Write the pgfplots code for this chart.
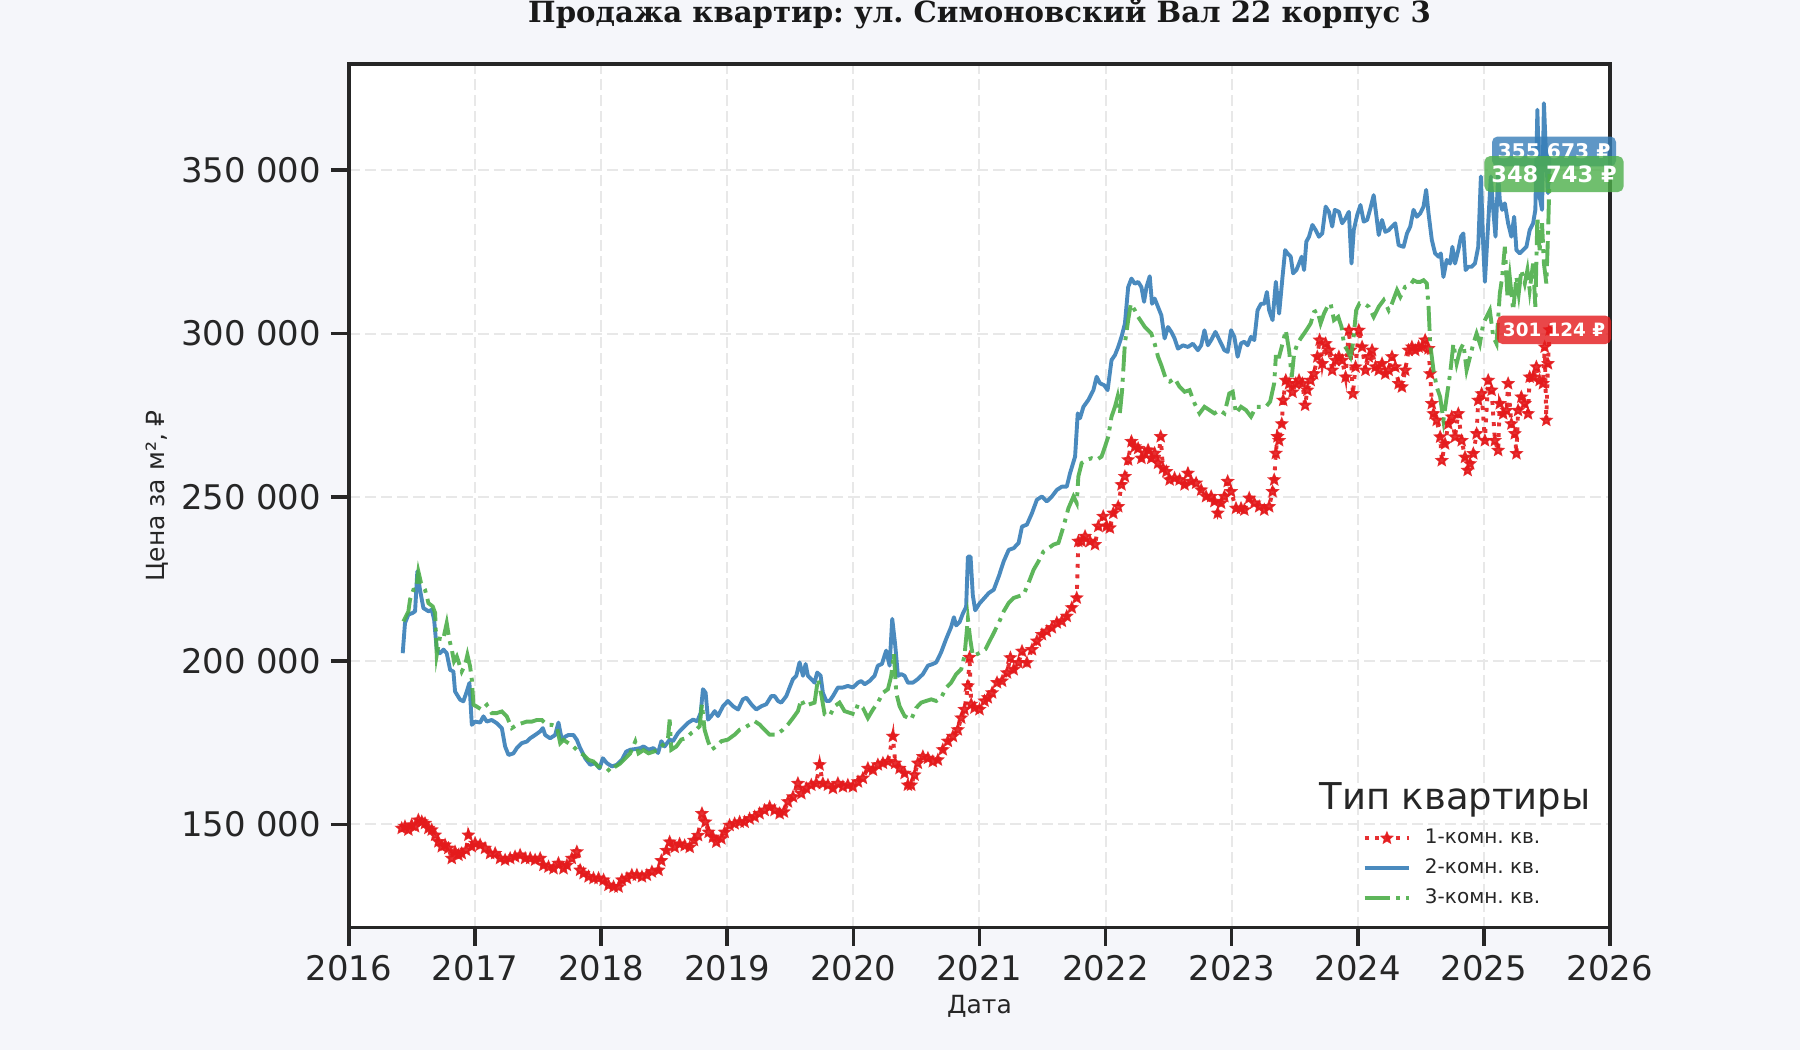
\documentclass[border=0pt]{standalone}
\usepackage{fontspec}
\setmainfont{DejaVu Sans}
\newfontfamily\titlefont{DejaVu Serif}
\usepackage{pgfplots}
\pgfplotsset{compat=1.18}
\usetikzlibrary{plotmarks}
\frenchspacing

\definecolor{figbg}{RGB}{245,246,250}
\definecolor{axiscol}{RGB}{38,38,38}
\definecolor{gridcol}{RGB}{232,232,232}
\definecolor{redC}{RGB}{228,26,28}
\definecolor{blueC}{RGB}{55,126,184}
\definecolor{greenC}{RGB}{77,175,74}

% filled five-pointed star
\pgfdeclareplotmark{fstar}{%
  \pgfpathmoveto{\pgfpointpolar{90}{\pgfplotmarksize}}%
  \pgfpathlineto{\pgfpointpolar{126}{0.45\pgfplotmarksize}}%
  \pgfpathlineto{\pgfpointpolar{162}{\pgfplotmarksize}}%
  \pgfpathlineto{\pgfpointpolar{198}{0.45\pgfplotmarksize}}%
  \pgfpathlineto{\pgfpointpolar{234}{\pgfplotmarksize}}%
  \pgfpathlineto{\pgfpointpolar{270}{0.45\pgfplotmarksize}}%
  \pgfpathlineto{\pgfpointpolar{306}{\pgfplotmarksize}}%
  \pgfpathlineto{\pgfpointpolar{342}{0.45\pgfplotmarksize}}%
  \pgfpathlineto{\pgfpointpolar{18}{\pgfplotmarksize}}%
  \pgfpathlineto{\pgfpointpolar{54}{0.45\pgfplotmarksize}}%
  \pgfpathclose
  \pgfusepathqfillstroke
}

\pgfplotsset{
  linelegend/.style={legend image code/.code={\draw[mark repeat=2,mark phase=2,##1] plot coordinates {(0pt,0pt) (8pt,0pt) (16pt,0pt)};}},
}

\begin{document}
\begin{tikzpicture}
\fill[figbg] (-125.64pt,-44.06pt) rectangle (522.36pt,333.94pt);
\begin{axis}[
    at={(0,0)}, anchor=south west,
    scale only axis,
    width=453.96pt, height=310.8pt,
    xmin=2016, xmax=2026,
    ymin=118430, ymax=382300,
    axis background/.style={fill=white},
    axis line style={line width=1.3pt, color=axiscol},
    xtick={2016,2017,...,2026},
    xticklabels={2016,2017,2018,2019,2020,2021,2022,2023,2024,2025,2026},
    ytick={150000,200000,250000,300000,350000},
    yticklabels={150 000,200 000,250 000,300 000,350 000},
    scaled y ticks=false, scaled x ticks=false,
    xtick pos=bottom, ytick pos=left,
    tick align=outside,
    major tick length=6.5pt,
    tick style={line width=1.3pt, color=axiscol},
    ticklabel style={font=\fontsize{12.2}{14}\selectfont, text=axiscol},
    grid=major,
    major grid style={dash pattern=on 4pt off 1.8pt, line width=0.7pt, color=gridcol},
    xlabel={Дата},
    xlabel style={at={(axis description cs:0.5,-0.0915)}, anchor=center,
        font=\fontsize{9}{11}\selectfont, text=axiscol},
    ylabel={Цена за м², ₽},
    ylabel style={at={(axis description cs:-0.1523,0.5)}, anchor=center,
        font=\fontsize{9}{11}\selectfont, text=axiscol},
    legend style={at={(rel axis cs:0.8035,0.1152)}, anchor=north west,
        draw=none, fill=none, inner sep=0pt, row sep=4pt, column sep=5pt,
        font=\fontsize{7.2}{8.5}\selectfont, text=axiscol,
        nodes={inner sep=0pt, text height=5.3pt, text depth=1.5pt}},
    legend cell align=left,
    linelegend,
    clip mode=individual,
]
% 1-room
\addplot[color=redC, draw opacity=0.9, fill opacity=0.9, line width=1.4pt, dash pattern=on 1.4pt off 2.4pt,
    mark=fstar, mark size=1.9pt, mark options={solid, line width=0.6pt, fill=redC}]
coordinates {
(2016.418,148800)(2016.444,149300)(2016.471,148300)(2016.497,149800)(2016.524,149300)
(2016.550,151300)(2016.577,150800)(2016.603,150300)(2016.630,148800)(2016.656,148300)
(2016.683,146700)(2016.709,144700)(2016.736,143200)(2016.762,143700)(2016.788,142700)
(2016.815,139600)(2016.841,141600)(2016.868,140600)(2016.894,141100)(2016.929,142100)
(2016.947,146700)(2016.974,143200)(2017.000,144200)(2017.040,143700)(2017.079,142700)
(2017.119,141100)(2017.159,141100)(2017.198,139600)(2017.238,139100)(2017.278,139600)
(2017.317,140100)(2017.357,140600)(2017.397,139600)(2017.437,139600)(2017.476,139100)
(2017.516,139600)(2017.542,137500)(2017.582,137000)(2017.622,136500)(2017.661,138100)
(2017.701,136500)(2017.728,137500)(2017.767,139600)(2017.807,141600)(2017.833,136000)
(2017.860,135000)(2017.900,134000)(2017.939,133500)(2017.979,133500)(2018.019,133000)
(2018.058,131400)(2018.098,130900)(2018.138,130900)(2018.164,133000)(2018.204,133500)
(2018.243,134500)(2018.283,134500)(2018.323,134000)(2018.362,134500)(2018.402,135500)
(2018.455,136000)(2018.477,138900)(2018.517,142000)(2018.543,144600)(2018.583,143000)
(2018.622,144000)(2018.662,143500)(2018.702,143000)(2018.736,145100)(2018.768,146600)
(2018.799,153300)(2018.826,150700)(2018.852,147600)(2018.886,146100)(2018.913,144600)
(2018.953,145600)(2018.979,147600)(2019.018,149700)(2019.058,150200)(2019.098,150700)
(2019.137,150700)(2019.177,151700)(2019.217,152300)(2019.256,153300)(2019.296,154300)
(2019.336,155300)(2019.375,154300)(2019.415,153300)(2019.449,153800)(2019.481,156900)
(2019.521,158400)(2019.560,162500)(2019.587,159400)(2019.626,161000)(2019.666,162000)
(2019.705,162500)(2019.732,168200)(2019.758,162500)(2019.798,162000)(2019.838,161000)
(2019.877,162500)(2019.917,161500)(2019.956,162000)(2019.996,161500)(2020.036,163000)
(2020.075,164100)(2020.115,167100)(2020.155,166600)(2020.194,168200)(2020.234,168700)
(2020.274,169200)(2020.313,176900)(2020.332,168700)(2020.366,167100)(2020.406,165600)
(2020.432,162000)(2020.458,162000)(2020.485,165100)(2020.511,168700)(2020.551,170700)
(2020.591,170200)(2020.630,169200)(2020.670,169700)(2020.709,172800)(2020.749,175400)
(2020.789,176900)(2020.828,178900)(2020.855,182500)(2020.881,185100)(2020.908,192300)
(2020.921,201000)(2020.934,186700)(2020.960,185600)(2021.000,185100)(2021.040,187700)
(2021.066,188700)(2021.100,190200)(2021.139,193300)(2021.179,193800)(2021.218,196300)
(2021.245,200900)(2021.271,197300)(2021.310,199400)(2021.337,202900)(2021.376,199400)
(2021.416,203400)(2021.455,206000)(2021.495,208000)(2021.534,209000)(2021.574,210100)
(2021.613,211600)(2021.653,212100)(2021.692,213600)(2021.732,216200)(2021.771,219200)
(2021.784,236500)(2021.810,236500)(2021.837,238000)(2021.876,236500)(2021.916,235500)
(2021.942,241100)(2021.981,244100)(2022.008,241100)(2022.034,240600)(2022.061,245100)
(2022.100,247100)(2022.126,253800)(2022.153,256300)(2022.179,261400)(2022.205,267000)
(2022.232,265400)(2022.258,264900)(2022.284,261900)(2022.311,263400)(2022.337,264400)
(2022.363,261900)(2022.389,263400)(2022.416,260400)(2022.437,268500)(2022.455,258800)
(2022.482,257800)(2022.508,255300)(2022.547,255800)(2022.587,255300)(2022.626,253800)
(2022.653,257300)(2022.679,254800)(2022.718,254300)(2022.758,252200)(2022.797,250200)
(2022.837,250200)(2022.863,248700)(2022.889,245100)(2022.916,248200)(2022.942,250200)
(2022.968,254800)(2022.995,251700)(2023.034,246600)(2023.074,246600)(2023.100,246100)
(2023.139,249700)(2023.179,248200)(2023.218,247100)(2023.258,246100)(2023.297,247100)
(2023.324,251700)(2023.337,255300)(2023.350,263400)(2023.363,268500)(2023.376,267300)
(2023.397,272400)(2023.408,279600)(2023.429,285700)(2023.455,284700)(2023.482,282100)
(2023.508,284700)(2023.534,285700)(2023.561,284700)(2023.582,278100)(2023.600,282700)
(2023.626,285700)(2023.653,287700)(2023.679,292900)(2023.697,298000)(2023.718,290800)
(2023.745,296900)(2023.771,294900)(2023.797,288800)(2023.824,291800)(2023.850,292900)
(2023.876,291800)(2023.903,286700)(2023.929,301000)(2023.942,294900)(2023.961,281600)
(2023.982,289800)(2024.008,301000)(2024.034,295900)(2024.061,288800)(2024.087,292900)
(2024.113,294900)(2024.140,289800)(2024.166,288800)(2024.192,290800)(2024.218,287700)
(2024.245,288800)(2024.271,292900)(2024.297,289800)(2024.324,284700)(2024.350,283700)
(2024.376,288800)(2024.403,294900)(2024.429,295900)(2024.455,294900)(2024.482,295900)
(2024.508,295900)(2024.534,298000)(2024.561,295400)(2024.574,287700)(2024.587,278600)
(2024.600,275500)(2024.626,273500)(2024.653,268400)(2024.666,261200)(2024.692,266300)
(2024.718,272400)(2024.745,274500)(2024.771,268400)(2024.797,275500)(2024.824,267300)
(2024.850,262200)(2024.871,258200)(2024.890,260200)(2024.916,263300)(2024.942,269400)
(2024.955,279600)(2024.982,281600)(2025.008,267300)(2025.034,285700)(2025.061,282700)
(2025.087,267300)(2025.113,264300)(2025.126,278600)(2025.153,275500)(2025.179,276500)
(2025.192,284700)(2025.218,272400)(2025.245,269400)(2025.258,263300)(2025.271,276500)
(2025.297,280600)(2025.324,278600)(2025.350,275500)(2025.363,286700)(2025.390,286700)
(2025.416,289800)(2025.442,285700)(2025.468,284700)(2025.482,295900)(2025.495,273500)
(2025.508,290800)(2025.521,301124)
};
\addlegendentry{1-комн. кв.}
% 2-room
\addplot[color=blueC, draw opacity=0.9, line width=1.4pt, line join=round]
coordinates {
(2016.426,202300)(2016.444,211500)(2016.471,214100)(2016.505,214600)(2016.524,215100)
(2016.542,227300)(2016.563,221700)(2016.590,216100)(2016.630,215100)(2016.656,215600)
(2016.675,212600)(2016.696,203400)(2016.722,202300)(2016.749,203400)(2016.775,202300)
(2016.802,197200)(2016.828,196700)(2016.841,190600)(2016.881,188100)(2016.907,187600)
(2016.934,190600)(2016.955,193200)(2016.974,180400)(2017.000,181400)(2017.040,181100)
(2017.066,183000)(2017.093,181400)(2017.132,181900)(2017.172,180900)(2017.212,179400)
(2017.238,173800)(2017.265,171200)(2017.304,171700)(2017.331,173300)(2017.370,174800)
(2017.410,175300)(2017.437,176300)(2017.476,177300)(2017.516,178400)(2017.537,179400)
(2017.556,177300)(2017.595,176300)(2017.635,177300)(2017.661,181100)(2017.688,175800)
(2017.714,176800)(2017.741,177300)(2017.780,177300)(2017.807,175800)(2017.833,173300)
(2017.873,170200)(2017.913,168200)(2017.952,168700)(2017.987,167100)(2018.013,170200)
(2018.045,168700)(2018.085,167700)(2018.124,168200)(2018.164,169700)(2018.198,172200)
(2018.230,172800)(2018.270,173000)(2018.310,173300)(2018.336,173800)(2018.376,172800)
(2018.415,173300)(2018.451,171800)(2018.477,175400)(2018.503,173800)(2018.543,175900)
(2018.569,175400)(2018.609,177900)(2018.649,179500)(2018.688,181000)(2018.728,182000)
(2018.762,181500)(2018.789,184100)(2018.807,191300)(2018.828,190200)(2018.847,182000)
(2018.873,183100)(2018.900,184600)(2018.926,183100)(2018.966,186100)(2019.005,187700)
(2019.045,186100)(2019.085,185100)(2019.124,188200)(2019.151,188700)(2019.190,186700)
(2019.230,185100)(2019.270,186100)(2019.309,186700)(2019.349,189200)(2019.375,189200)
(2019.402,187700)(2019.428,187200)(2019.468,189200)(2019.494,191800)(2019.521,194400)
(2019.547,195400)(2019.573,199500)(2019.600,195400)(2019.621,199000)(2019.639,195400)
(2019.666,194400)(2019.692,193300)(2019.713,196400)(2019.740,195400)(2019.758,190200)
(2019.785,187700)(2019.811,187700)(2019.838,189200)(2019.877,191800)(2019.917,191800)
(2019.956,192300)(2019.996,191800)(2020.036,193300)(2020.062,193800)(2020.089,192800)
(2020.128,193800)(2020.168,195400)(2020.194,198500)(2020.226,199000)(2020.260,203100)
(2020.287,198500)(2020.308,212800)(2020.332,204600)(2020.353,195400)(2020.379,195900)
(2020.406,195400)(2020.432,193300)(2020.472,193300)(2020.511,194400)(2020.551,195900)
(2020.591,198500)(2020.630,199000)(2020.657,199500)(2020.696,202600)(2020.736,206700)
(2020.775,210300)(2020.797,213300)(2020.815,210800)(2020.842,211800)(2020.868,214400)
(2020.894,216400)(2020.908,231800)(2020.929,231800)(2020.947,220000)(2020.966,215400)
(2021.000,217500)(2021.074,220700)(2021.113,221700)(2021.153,225800)(2021.192,230400)
(2021.232,233900)(2021.271,234400)(2021.310,236000)(2021.337,241000)(2021.376,241600)
(2021.416,245100)(2021.455,249200)(2021.495,250200)(2021.534,248700)(2021.574,250200)
(2021.613,252200)(2021.653,253200)(2021.692,253200)(2021.718,257300)(2021.758,262400)
(2021.779,275600)(2021.797,274100)(2021.824,277600)(2021.863,279700)(2021.903,282700)
(2021.929,286800)(2021.955,284800)(2021.989,284200)(2022.016,282700)(2022.047,291900)
(2022.074,293400)(2022.100,295900)(2022.126,299000)(2022.153,303000)(2022.179,314200)
(2022.205,316800)(2022.232,315200)(2022.258,315800)(2022.284,314200)(2022.305,309700)
(2022.324,314200)(2022.350,317500)(2022.368,309100)(2022.389,310700)(2022.416,308100)
(2022.442,305600)(2022.468,298500)(2022.495,302000)(2022.521,300500)(2022.547,298500)
(2022.574,295400)(2022.613,296400)(2022.653,295900)(2022.692,296900)(2022.732,294900)
(2022.758,296400)(2022.784,301000)(2022.811,296400)(2022.837,298000)(2022.871,300500)
(2022.903,298000)(2022.942,294900)(2022.968,294400)(2022.995,301000)(2023.021,299000)
(2023.047,292900)(2023.074,297000)(2023.100,297500)(2023.126,296400)(2023.153,299000)
(2023.179,298000)(2023.205,307100)(2023.232,309100)(2023.258,309100)(2023.279,312700)
(2023.297,307100)(2023.324,304100)(2023.350,315800)(2023.376,306100)(2023.403,317300)
(2023.424,325500)(2023.442,324500)(2023.468,323500)(2023.487,318400)(2023.513,319400)
(2023.534,321400)(2023.555,323500)(2023.574,319400)(2023.592,328100)(2023.613,329600)
(2023.640,333200)(2023.666,331600)(2023.692,329600)(2023.718,330600)(2023.745,338800)
(2023.771,337200)(2023.797,332700)(2023.818,337800)(2023.850,337200)(2023.876,333700)
(2023.903,335200)(2023.929,337200)(2023.950,321400)(2023.968,331600)(2023.995,336200)
(2024.021,339300)(2024.047,334200)(2024.074,334700)(2024.100,338300)(2024.126,342300)
(2024.145,336700)(2024.166,330100)(2024.192,334700)(2024.218,331100)(2024.245,331600)
(2024.271,332700)(2024.297,333700)(2024.324,327000)(2024.363,326500)(2024.390,330600)
(2024.416,332700)(2024.442,337800)(2024.468,335700)(2024.495,336700)(2024.521,338800)
(2024.542,343900)(2024.561,336700)(2024.587,328600)(2024.613,324500)(2024.640,323500)
(2024.658,324500)(2024.679,317300)(2024.705,322500)(2024.732,321400)(2024.750,326500)
(2024.771,321400)(2024.797,325500)(2024.818,329600)(2024.837,330600)(2024.855,319400)
(2024.876,320400)(2024.903,320400)(2024.929,321400)(2024.955,326500)(2024.976,348000)
(2024.995,326500)(2025.008,315800)(2025.034,333700)(2025.055,348000)(2025.074,337800)
(2025.092,329600)(2025.113,348500)(2025.126,340800)(2025.145,337800)(2025.166,339800)
(2025.192,333700)(2025.218,329600)(2025.240,335700)(2025.258,325500)(2025.284,324500)
(2025.311,325500)(2025.337,326500)(2025.363,331600)(2025.390,333700)(2025.408,337800)
(2025.424,368400)(2025.442,341800)(2025.461,337800)(2025.476,370400)(2025.490,357100)
(2025.508,342900)(2025.521,355673)
};
\addlegendentry{2-комн. кв.}
% 3-room
\addplot[color=greenC, draw opacity=0.9, line width=1.4pt,
    dash pattern=on 9pt off 2.3pt on 1.4pt off 2.3pt]
coordinates {
(2016.431,212000)(2016.471,215100)(2016.484,218700)(2016.511,221700)(2016.532,221900)
(2016.550,227300)(2016.571,223800)(2016.603,221700)(2016.630,217600)(2016.664,216600)
(2016.683,214600)(2016.696,201800)(2016.722,207400)(2016.749,206900)(2016.775,211500)
(2016.796,206400)(2016.815,203400)(2016.833,199800)(2016.855,201300)(2016.894,196700)
(2016.921,198800)(2016.939,201800)(2016.960,198300)(2016.974,194200)(2016.987,186500)
(2017.013,186000)(2017.053,185000)(2017.093,186500)(2017.132,184000)(2017.172,184000)
(2017.212,184500)(2017.251,183000)(2017.291,179400)(2017.331,180400)(2017.370,180900)
(2017.410,181400)(2017.450,181400)(2017.490,181900)(2017.529,181900)(2017.569,180400)
(2017.609,180400)(2017.648,179900)(2017.675,174800)(2017.701,175800)(2017.741,174800)
(2017.780,173800)(2017.820,172200)(2017.860,171200)(2017.899,169700)(2017.939,169200)
(2017.979,167600)(2018.032,167600)(2018.071,166100)(2018.111,167600)(2018.151,168600)
(2018.191,170200)(2018.230,171700)(2018.270,175300)(2018.296,171700)(2018.336,172700)
(2018.376,171700)(2018.415,172200)(2018.451,172800)(2018.490,174300)(2018.530,176400)
(2018.543,182000)(2018.556,172800)(2018.596,173800)(2018.635,175900)(2018.675,176400)
(2018.715,177900)(2018.754,178900)(2018.781,180000)(2018.799,186700)(2018.820,178900)
(2018.847,175400)(2018.873,172800)(2018.913,173800)(2018.953,175400)(2019.005,175900)
(2019.058,177400)(2019.098,178900)(2019.137,179500)(2019.177,180500)(2019.217,181500)
(2019.256,180500)(2019.296,178900)(2019.336,177400)(2019.388,177400)(2019.441,178900)
(2019.481,180500)(2019.521,182500)(2019.560,184600)(2019.587,188200)(2019.613,186100)
(2019.653,186700)(2019.692,187200)(2019.719,194400)(2019.745,189700)(2019.772,183600)
(2019.811,183100)(2019.851,186100)(2019.890,187200)(2019.930,184600)(2019.970,184100)
(2020.009,183600)(2020.036,186700)(2020.075,185600)(2020.115,182500)(2020.155,185100)
(2020.194,187200)(2020.234,190200)(2020.274,191300)(2020.300,195400)(2020.321,202100)
(2020.340,190200)(2020.366,186100)(2020.406,183100)(2020.458,182000)(2020.498,185600)
(2020.538,187200)(2020.577,187700)(2020.617,188200)(2020.657,187700)(2020.696,188700)
(2020.736,191800)(2020.775,193300)(2020.815,195900)(2020.855,197400)(2020.881,201500)
(2020.908,212800)(2020.926,206700)(2020.947,201500)(2020.987,202100)(2021.047,203500)
(2021.100,207500)(2021.153,211600)(2021.192,215100)(2021.232,217700)(2021.271,219200)
(2021.310,219700)(2021.350,220200)(2021.389,223800)(2021.429,227800)(2021.468,230400)
(2021.508,233400)(2021.547,234400)(2021.587,235500)(2021.626,236000)(2021.666,241000)
(2021.705,246600)(2021.745,250200)(2021.771,248200)(2021.784,256300)(2021.810,260400)
(2021.850,261400)(2021.889,261900)(2021.929,261400)(2021.968,262400)(2021.995,265400)
(2022.021,268500)(2022.047,274600)(2022.074,277600)(2022.095,280700)(2022.113,275600)
(2022.131,282700)(2022.153,297000)(2022.179,304100)(2022.200,309100)(2022.232,307100)
(2022.258,305100)(2022.284,303600)(2022.311,302000)(2022.337,301000)(2022.363,300000)
(2022.389,296900)(2022.416,292900)(2022.442,290300)(2022.481,285800)(2022.508,285300)
(2022.547,286300)(2022.587,283700)(2022.626,282200)(2022.666,282700)(2022.705,278700)
(2022.745,275600)(2022.784,277600)(2022.824,276600)(2022.863,275600)(2022.903,276600)
(2022.942,275600)(2022.981,281700)(2023.008,282200)(2023.034,275600)(2023.074,277600)
(2023.113,276600)(2023.153,274600)(2023.192,277600)(2023.232,277600)(2023.271,277600)
(2023.305,279200)(2023.337,284800)(2023.350,292900)(2023.376,292900)(2023.403,296900)
(2023.429,301000)(2023.455,294900)(2023.476,286700)(2023.495,293900)(2023.521,296900)
(2023.547,298500)(2023.574,300000)(2023.600,301500)(2023.626,303100)(2023.653,306600)
(2023.679,307100)(2023.705,303100)(2023.732,306100)(2023.758,308200)(2023.784,309200)
(2023.811,304100)(2023.845,305100)(2023.871,302000)(2023.890,296900)(2023.916,294900)
(2023.942,292900)(2023.961,296900)(2023.987,307100)(2024.013,309200)(2024.047,309200)
(2024.087,308200)(2024.126,305100)(2024.166,308200)(2024.205,310200)(2024.245,307100)
(2024.271,309200)(2024.311,313300)(2024.337,311200)(2024.376,314300)(2024.416,314800)
(2024.442,316300)(2024.468,315800)(2024.495,315800)(2024.521,316300)(2024.547,315300)
(2024.561,308200)(2024.574,296900)(2024.600,288800)(2024.626,283700)(2024.653,280600)
(2024.679,273500)(2024.705,280600)(2024.732,287700)(2024.758,296900)(2024.784,290800)
(2024.811,294900)(2024.837,296900)(2024.863,288800)(2024.890,292900)(2024.916,296900)
(2024.942,300000)(2024.968,296900)(2024.995,303100)(2025.021,305100)(2025.047,307100)
(2025.074,299000)(2025.100,296900)(2025.126,312200)(2025.145,317300)(2025.166,326500)
(2025.187,311200)(2025.205,317300)(2025.232,307100)(2025.258,317300)(2025.276,312200)
(2025.297,319400)(2025.324,315300)(2025.345,319400)(2025.363,313300)(2025.390,321400)
(2025.408,308200)(2025.424,335700)(2025.442,325500)(2025.461,333700)(2025.476,321400)
(2025.495,315300)(2025.508,329600)(2025.521,348743)
};
\addlegendentry{3-комн. кв.}
% title
\node[font=\titlefont\bfseries\fontsize{10.5}{12}\selectfont, text=black!90, inner sep=0pt]
    at (rel axis cs:0.5,1) [yshift=18pt] {Продажа квартир: ул. Симоновский Вал 22 корпус 3};
% legend title
\node[anchor=base, font=\fontsize{13.3}{15}\selectfont, text=axiscol, inner sep=0pt]
    at (rel axis cs:0.877,0.1367) {Тип квартиры};
% last-value labels
\node[fill=blueC, fill opacity=0.8, text opacity=1, text=white, rounded corners=2pt,
    inner xsep=2pt, inner ysep=2.6pt, font=\bfseries\fontsize{7.3}{8}\selectfont]
    at (axis cs:2025.556,355673) {355 673 ₽};
\node[fill=greenC, fill opacity=0.8, text opacity=1, text=white, rounded corners=2pt,
    inner xsep=2.5pt, inner ysep=3.4pt, font=\bfseries\fontsize{8.1}{9}\selectfont]
    at (axis cs:2025.556,348743) {348 743 ₽};
\node[fill=redC, fill opacity=0.8, text opacity=1, text=white, rounded corners=2pt,
    inner xsep=2.2pt, inner ysep=2.6pt, font=\bfseries\fontsize{6.6}{7.5}\selectfont]
    at (axis cs:2025.556,301124) {301 124 ₽};
\end{axis}
\pgfresetboundingbox
\path[use as bounding box] (-125.64pt,-44.06pt) rectangle (522.36pt,333.94pt);
\end{tikzpicture}
\end{document}
